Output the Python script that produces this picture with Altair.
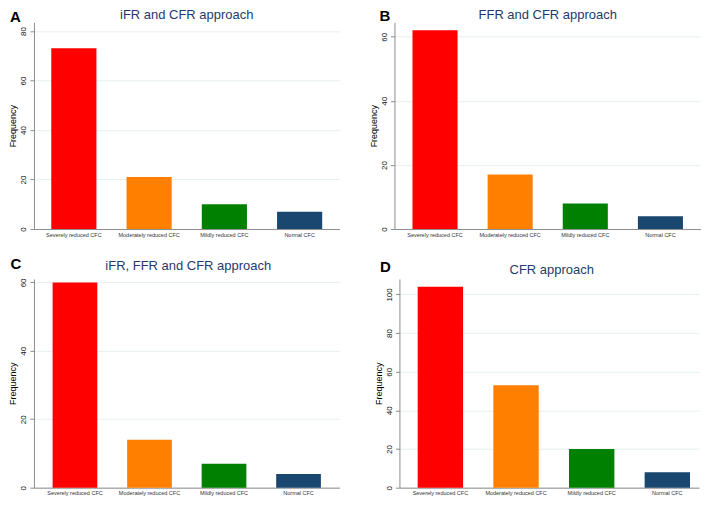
import altair as alt
import pandas as pd

categories = ["Severely reduced CFC", "Moderately reduced CFC", "Mildly reduced CFC", "Normal CFC"]
values_a = [73, 21, 10, 7]
values_b = [62, 17, 8, 4]
values_c = [60, 14, 7, 4]
values_d = [104, 53, 20, 8]
titles = ["iFR and CFR approach", "FFR and CFR approach", "iFR, FFR and CFR approach", "CFR approach"]
letters = ["A", "B", "C", "D"]
ticks_a = [0, 20, 40, 60, 80]
ticks_b = [0, 20, 40, 60]
ticks_c = [0, 20, 40, 60]
ticks_d = [0, 20, 40, 60, 80, 100]
y_max = [83.5, 64.5, 61, 108]
colors_acd = ["#ff0000", "#ff8000", "#008000", "#1a476f"]
colors_b = ["#ff0000", "#ff8000", "#008000", "#1c2b55"]

FONT = "Liberation Sans"
AXIS_GRAY = "#8c8c8c"


def panel(values, title, letter, ticks, ymax, colors, width, height,
          ty, tdx, lx, ly, pad_outer=0.23, align=0.5):
    df = pd.DataFrame({"category": categories, "count": values})
    bars = alt.Chart(df).mark_bar().encode(
        x=alt.X(
            "category:N", sort=categories,
            scale=alt.Scale(paddingInner=0.4, paddingOuter=pad_outer, align=align),
            axis=alt.Axis(title=None, labelAngle=0, ticks=False, labelFontSize=5.5,
                          labelPadding=3, labelColor="#333333", domainColor=AXIS_GRAY,
                          grid=False, labelOverlap=False, labelFont=FONT),
        ),
        y=alt.Y(
            "count:Q",
            scale=alt.Scale(domain=[0, ymax], nice=False, zero=True),
            axis=alt.Axis(title="Frequency", values=ticks, labelAngle=270,
                          labelAlign="center", labelBaseline="bottom", labelFontSize=8,
                          labelPadding=2, tickSize=4, tickColor=AXIS_GRAY,
                          domainColor=AXIS_GRAY, grid=True, gridColor="#e6eff2",
                          titleFontSize=9, titleFontWeight="normal", titlePadding=2,
                          titleColor="#000000", labelColor="#111111",
                          labelFont=FONT, titleFont=FONT),
        ),
        color=alt.Color("category:N", sort=categories,
                        scale=alt.Scale(domain=categories, range=colors), legend=None),
    )
    lab = alt.Chart(pd.DataFrame({"letter": [letter]})).mark_text(
        fontSize=15, fontWeight="bold", align="left", baseline="alphabetic",
        color="#000000", font=FONT,
    ).encode(text="letter:N", x=alt.value(lx), y=alt.value(ly))
    ttl = alt.Chart(pd.DataFrame({"title": [title]})).mark_text(
        fontSize=13, align="center", baseline="alphabetic",
        color="#243a6b", font=FONT,
    ).encode(text="title:N", x=alt.value(width / 2 + tdx), y=alt.value(ty))
    return alt.layer(bars, lab, ttl).properties(width=width, height=height)


pa = panel(values_a, titles[0], letters[0], ticks_a, y_max[0], colors_acd, 306, 207, -3, 0, -24, 0)
pb = panel(values_b, titles[1], letters[1], ticks_b, y_max[1], colors_b, 307, 207, -3, 0, -15, -1, 0.24)
pc = panel(values_c, titles[2], letters[2], ticks_c, y_max[2], colors_acd, 306, 209, -9, 1.5, -23.5, -10, 0.25)
pd_ = panel(values_d, titles[3], letters[3], ticks_d, y_max[3], colors_acd, 300, 209, -5, 2.5, -19.5, -7, 0.18, 0.67)

row1 = alt.hconcat(pa, pb, spacing=30)
row2 = alt.hconcat(pc, pd_, spacing=35)
chart = alt.vconcat(row1, row2, spacing=19).properties(
    padding={"top": 1, "left": 0, "right": 0, "bottom": 0}, background="white"
).configure_view(stroke=None)

chart.save("out.html", embed_options={"renderer": "svg", "actions": False})
